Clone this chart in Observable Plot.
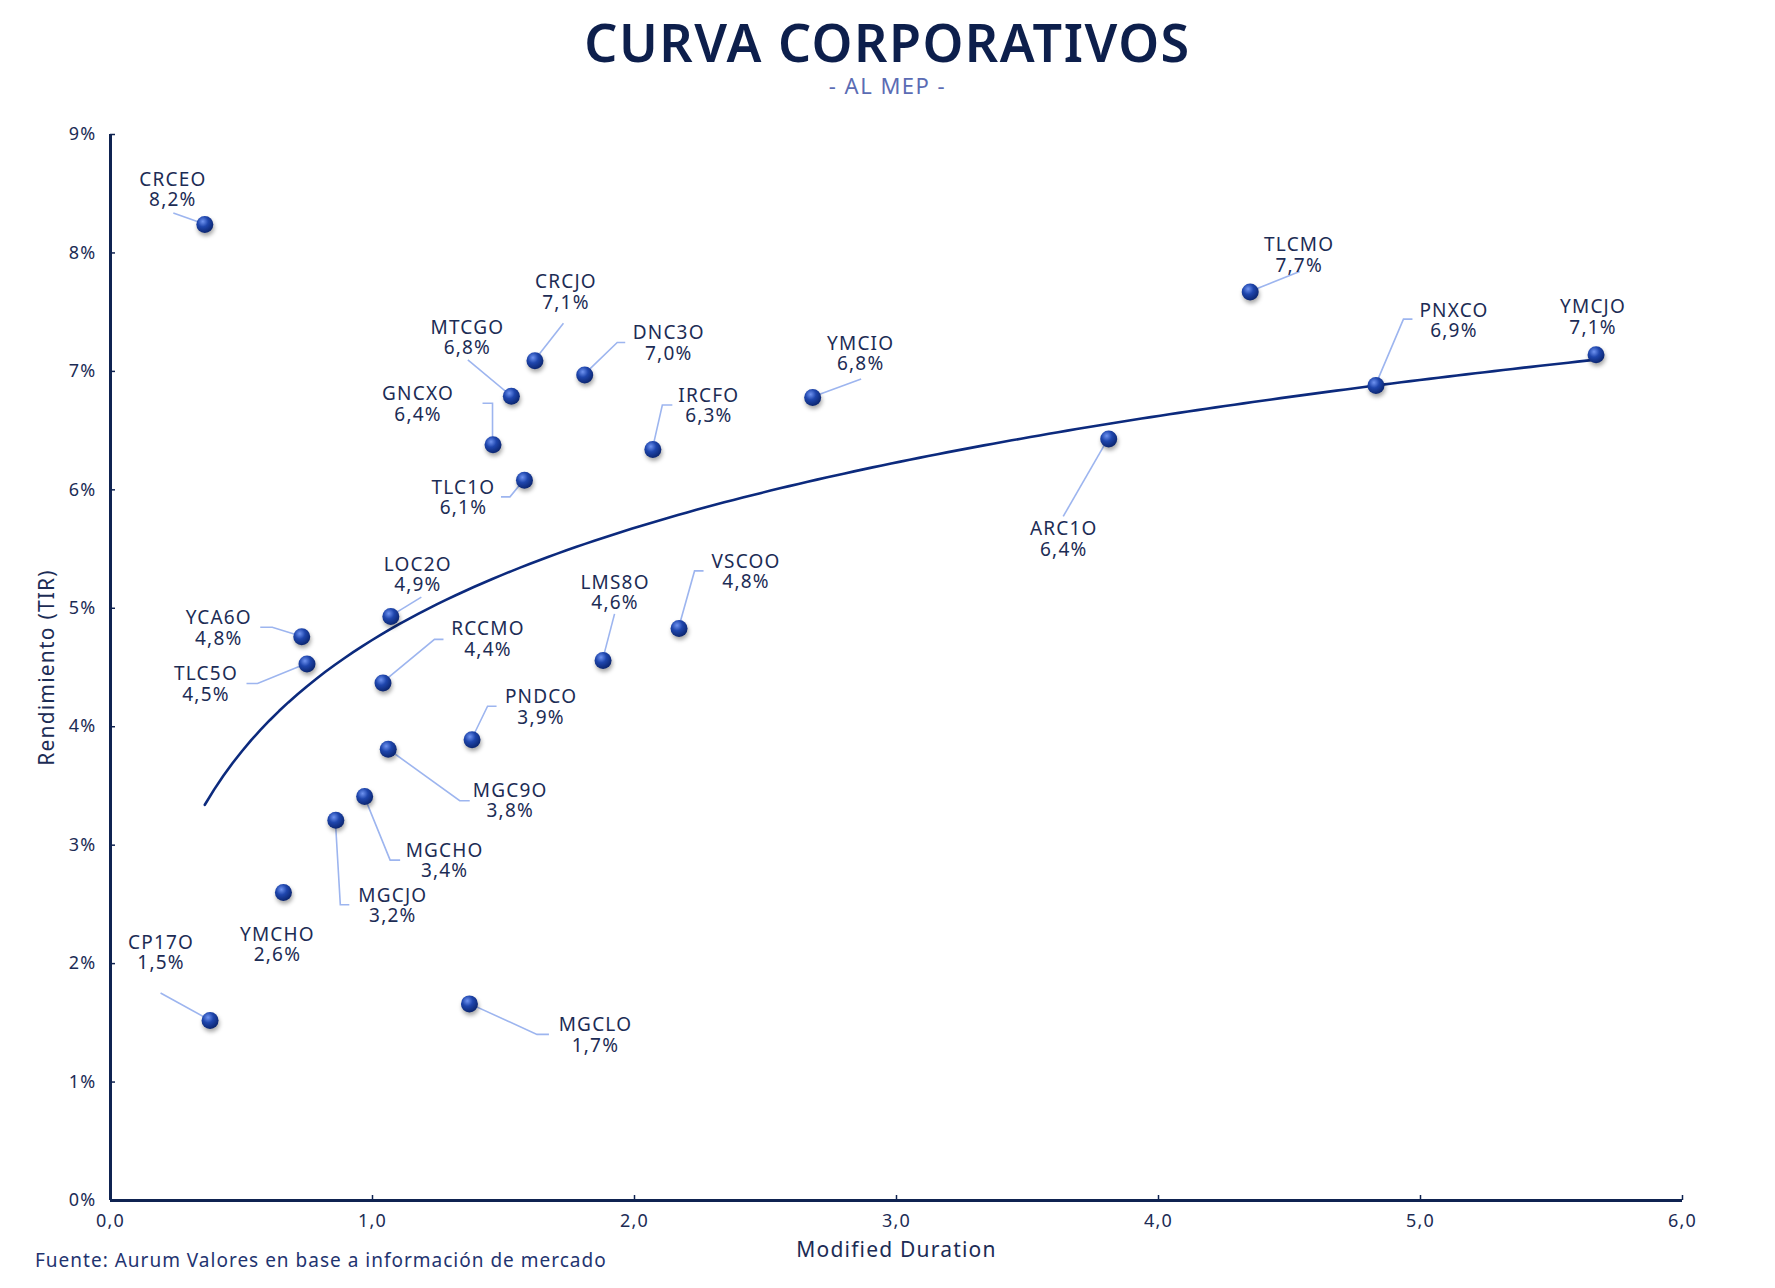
<!DOCTYPE html>
<html>
<head>
<meta charset="utf-8">
<script src="https://cdn.jsdelivr.net/npm/d3@7"></script>
<script src="https://cdn.jsdelivr.net/npm/@observablehq/plot@0.6"></script>
<style>
  body { margin: 0; background: #ffffff; font-family: "Noto Sans", sans-serif; }
  #wrap { position: relative; width: 1775px; height: 1288px; overflow: hidden; background: #fff; }
  #title { position: absolute; left: 0; width: 1775px; top: 14px; text-align: center;
           font-size: 52px; line-height: 56px; font-weight: 600; color: #0d1f4c; letter-spacing: 1.5px; }
  #subtitle { position: absolute; left: 0; width: 1775px; top: 73px; text-align: center;
              font-size: 22px; line-height: 24px; color: #5b6cb4; letter-spacing: 1.5px; }
  #chart { position: absolute; left: 0; top: 100px; }
  #caption { position: absolute; left: 35px; top: 1249px; font-size: 19px; line-height: 22px;
             color: #1f3470; letter-spacing: 1px; }
  #chart text { letter-spacing: 1.2px; }
  #chart g[aria-label="dot"] circle { filter: drop-shadow(1px 3px 2px rgba(0,0,0,0.35)); }
</style>
</head>
<body>
<div id="wrap">
  <div id="title">CURVA CORPORATIVOS</div>
  <div id="subtitle">- AL MEP -</div>
  <div id="chart"></div>
  <div id="caption">Fuente: Aurum Valores en base a información de mercado</div>
</div>
<script>
// ---- data ----
const tickers = ["CRCEO","CP17O","YMCHO","MGCJO","MGCHO","MGC9O","RCCMO","LOC2O","YCA6O","TLC5O",
                 "PNDCO","MGCLO","LMS8O","VSCOO","GNCXO","TLC1O","MTCGO","CRCJO","DNC3O","IRCFO",
                 "YMCIO","ARC1O","TLCMO","PNXCO","YMCJO"];
const duration = [0.36,0.38,0.66,0.86,0.97,1.06,1.04,1.07,0.73,0.75,
                  1.38,1.37,1.88,2.17,1.46,1.58,1.53,1.62,1.81,2.07,
                  2.68,3.81,4.35,4.83,5.67];
const yieldPct = [8.24,1.52,2.60,3.21,3.41,3.81,4.37,4.93,4.76,4.53,
                  3.89,1.66,4.56,4.83,6.38,6.08,6.79,7.09,6.97,6.34,
                  6.78,6.43,7.67,6.88,7.14];
const xTicks = [0,1,2,3,4,5,6];
const yTicks = [0,1,2,3,4,5,6,7,8,9];

// ---- label placement (pixel offsets from each point) ----
const labelLayout = {
  CRCEO: {dx:-32, dy:-35, leader:[[-31,-11]]},
  CP17O: {dx:-49, dy:-68, leader:[[-49,-27]]},
  YMCHO: {dx:-6,  dy:52,  leader:null},
  MGCJO: {dx:57,  dy:85,  leader:[[14,85],[5,85]]},
  MGCHO: {dx:80,  dy:64,  leader:[[36,64],[26,64]]},
  MGC9O: {dx:122, dy:51,  leader:[[82,52],[72,52]]},
  RCCMO: {dx:105, dy:-44, leader:[[61,-43],[52,-43]]},
  LOC2O: {dx:27,  dy:-42, leader:[[31,-19]]},
  YCA6O: {dx:-83, dy:-9,  leader:[[-41,-9],[-29,-9]]},
  TLC5O: {dx:-101,dy:20,  leader:[[-60,20],[-49,20]]},
  PNDCO: {dx:69,  dy:-33, leader:[[25,-33],[16,-33]]},
  MGCLO: {dx:126, dy:31,  leader:[[80,31],[68,31]]},
  LMS8O: {dx:12,  dy:-68, leader:[[12,-46]]},
  VSCOO: {dx:67,  dy:-57, leader:[[25,-57],[16,-57]]},
  GNCXO: {dx:-75, dy:-41, leader:[[-10,-41],[0,-41]]},
  TLC1O: {dx:-61, dy:17,  leader:[[-23,17],[-14,17]]},
  MTCGO: {dx:-44, dy:-59, leader:[[-43,-36]]},
  CRCJO: {dx:31,  dy:-69, leader:[[29,-37]]},
  DNC3O: {dx:84,  dy:-32, leader:[[41,-32],[33,-32]]},
  IRCFO: {dx:56,  dy:-44, leader:[[20,-44],[10,-44]]},
  YMCIO: {dx:48,  dy:-44, leader:[[49,-18]]},
  ARC1O: {dx:-45, dy:100, leader:[[-45,78]]},
  TLCMO: {dx:49,  dy:-37, leader:[[50,-20]]},
  PNXCO: {dx:78,  dy:-65, leader:[[37,-66],[28,-66]]},
  YMCJO: {dx:-3,  dy:-38, leader:null}
};

const data = tickers.map((t, i) => ({ticker: t, x: duration[i], y: yieldPct[i]}));
const pct = d => d3.format(".1f")(d).replace(".", ",") + "%";
const fmtX = d => d3.format(".1f")(d).replace(".", ",");

// logarithmic trend line (least squares of y on ln x)
const lx = duration.map(Math.log);
const mx = d3.mean(lx), my = d3.mean(yieldPct);
const b = d3.sum(lx, (l, i) => (l - mx) * (yieldPct[i] - my)) / d3.sum(lx, l => (l - mx) ** 2);
const a = my - b * mx;
const xmin = d3.min(duration), xmax = d3.max(duration);
const trend = d3.range(0, 151).map(k => {
  const x = xmin + (xmax - xmin) * k / 150;
  return {x, y: a + b * Math.log(x)};
});

const NAVY = "#0f2351";
const TEXT = "#1c2c55";

function defsMark() {
  const g = d3.create("svg:g");
  const grad = g.append("defs").append("radialGradient")
    .attr("id", "ballGrad").attr("cx", "38%").attr("cy", "32%").attr("r", "70%");
  grad.append("stop").attr("offset", "0%").attr("stop-color", "#6f93f0");
  grad.append("stop").attr("offset", "45%").attr("stop-color", "#1f46ad");
  grad.append("stop").attr("offset", "100%").attr("stop-color", "#0b256f");
  return g.node();
}

function leaderMark(index, scales) {
  const g = d3.create("svg:g").attr("fill", "none").attr("stroke", "#9db5ef").attr("stroke-width", 1.6);
  for (const d of data) {
    const L = labelLayout[d.ticker];
    if (!L || !L.leader) continue;
    const px = scales.x(d.x), py = scales.y(d.y);
    const pts = L.leader.map(([dx, dy]) => [px + dx, py + dy]).concat([[px, py]]);
    g.append("path").attr("d", d3.line()(pts));
  }
  return g.node();
}

const labelMarks = data.map(d => {
  const L = labelLayout[d.ticker];
  return Plot.text([d], {
    x: "x", y: "y",
    text: d => d.ticker + "\n" + pct(d.y),
    dx: L.dx, dy: L.dy,
    fontSize: 19, lineHeight: 1.08,
    textAnchor: "middle", lineAnchor: "middle",
    fill: TEXT
  });
});

const chart = Plot.plot({
  width: 1775,
  height: 1170,
  marginLeft: 110,
  marginRight: 93,
  marginTop: 34,
  marginBottom: 70,
  style: {fontFamily: '"Noto Sans", sans-serif', fontSize: "18px", color: TEXT, background: "#fff"},
  x: {domain: [0, 6]},
  y: {domain: [0, 9]},
  marks: [
    defsMark,
    Plot.axisX({ticks: xTicks, tickFormat: fmtX, tickSize: 0, tickPadding: 14, label: null, fontSize: 18, fill: TEXT}),
    Plot.axisY({ticks: yTicks, tickFormat: d => d + "%", tickSize: 0, tickPadding: 14, label: null, fontSize: 18, fill: TEXT}),
    Plot.tickX(xTicks, {x: d => d, stroke: NAVY, strokeWidth: 1.5, insetTop: 1061}),
    Plot.tickY(yTicks, {y: d => d, stroke: NAVY, strokeWidth: 1.5, insetRight: 1567}),
    Plot.ruleX([0], {stroke: NAVY, strokeWidth: 3}),
    Plot.ruleY([0], {stroke: NAVY, strokeWidth: 3}),
    Plot.text(["Modified Duration"], {frameAnchor: "bottom", dy: 56, fontSize: 21, fill: TEXT}),
    Plot.text(["Rendimiento (TIR)"], {frameAnchor: "left", textAnchor: "middle", rotate: -90, dx: -63, fontSize: 21, fill: TEXT}),
    Plot.line(trend, {x: "x", y: "y", stroke: "#0c2a7d", strokeWidth: 2.6}),
    leaderMark,
    Plot.dot(data, {x: "x", y: "y", r: 8.5, fill: "url(#ballGrad)", stroke: "none"}),
    ...labelMarks
  ]
});
document.getElementById("chart").appendChild(chart);
</script>
</body>
</html>
